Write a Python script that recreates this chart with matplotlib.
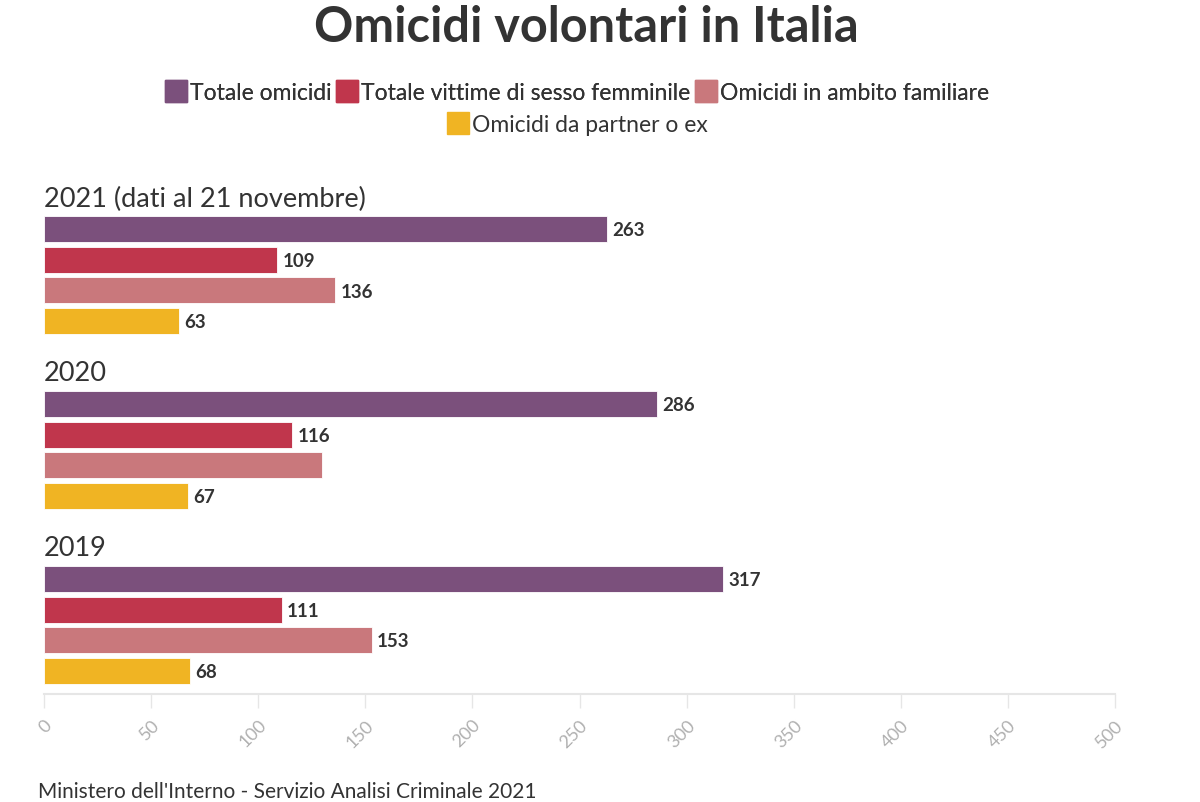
import matplotlib
matplotlib.use("Agg")
import matplotlib.pyplot as plt
from matplotlib.lines import Line2D

plt.rcParams['font.family'] = ['Lato', 'DejaVu Sans']

years = ["2021 (dati al 21 novembre)", "2020", "2019"]
series = ["Totale omicidi", "Totale vittime di sesso femminile",
          "Omicidi in ambito familiare", "Omicidi da partner o ex"]
values = {
    "Totale omicidi": [263, 286, 317],
    "Totale vittime di sesso femminile": [109, 116, 111],
    "Omicidi in ambito familiare": [136, 130, 153],
    "Omicidi da partner o ex": [63, 67, 68],
}
show_label = {
    "Totale omicidi": [True, True, True],
    "Totale vittime di sesso femminile": [True, True, True],
    "Omicidi in ambito familiare": [True, False, True],
    "Omicidi da partner o ex": [True, True, True],
}
colors = ["#7b507c", "#c0364c", "#c9787c", "#f0b423"]
xticks = [0, 50, 100, 150, 200, 250, 300, 350, 400, 450, 500]

W, H = 1200, 803
fig = plt.figure(figsize=(W / 100, H / 100), dpi=100)
ax_top, ax_bot = 180, 695
ax = fig.add_axes([44 / W, (H - ax_bot) / H, (1115 - 44) / W, (ax_bot - ax_top) / H])
ax.set_xlim(0, 500)
ax.set_ylim(ax_bot - ax_top, 0)

group_pitch = 175
bar_pitch = 30.5
bar_h = 26
first_center = 50
for g, yr in enumerate(years):
    ax.text(0, first_center - 31 + g * group_pitch, yr, fontsize=19.5, color="#333333",
            va="center", ha="left")
    for s, name in enumerate(series):
        yc = first_center + g * group_pitch + s * bar_pitch
        v = values[name][g]
        ax.barh(yc, v, height=bar_h, color=colors[s], edgecolor="white", linewidth=0.6)
        if show_label[name][g]:
            ax.text(v + 2.5, yc + 1, str(v), fontsize=13.5, fontweight="bold",
                    color="#333333", va="center", ha="left")

for sp in ["top", "right", "left"]:
    ax.spines[sp].set_visible(False)
ax.spines["bottom"].set_color("#e6e6e6")
ax.spines["bottom"].set_linewidth(1.5)
ax.set_yticks([])
ax.set_xticks(xticks)
ax.set_xticklabels([str(t) for t in xticks], rotation=45, ha="right", va="top",
                   rotation_mode="anchor", fontsize=13, color="#b0b0b0")
ax.tick_params(axis="x", length=10, width=1, color="#e6e6e6", pad=6)

fig.text(586 / W, 1 - 27 / H, "Omicidi volontari in Italia", fontsize=35,
         fontweight="bold", color="#333333", ha="center", va="center")

handles = [Line2D([0], [0], marker="s", linestyle="none", markersize=16,
                  markerfacecolor=c, markeredgecolor=c) for c in colors]
leg1 = fig.legend(handles[:3], series[:3], loc="center", ncol=3,
                  bbox_to_anchor=(577 / W, 1 - 94 / H), frameon=False,
                  fontsize=16.5, handletextpad=0.1, columnspacing=0.2,
                  handlelength=1.0, labelcolor="#333333")
leg2 = fig.legend(handles[3:], series[3:], loc="center", ncol=1,
                  bbox_to_anchor=(577 / W, 1 - 126 / H), frameon=False,
                  fontsize=16.5, handletextpad=0.1, handlelength=1.0,
                  labelcolor="#333333")
fig.add_artist(leg1)

fig.text(38 / W, 1 - 792 / H, "Ministero dell'Interno - Servizio Analisi Criminale 2021",
         fontsize=15, color="#333333", ha="left", va="center")

fig.savefig("out.png", dpi=100)
